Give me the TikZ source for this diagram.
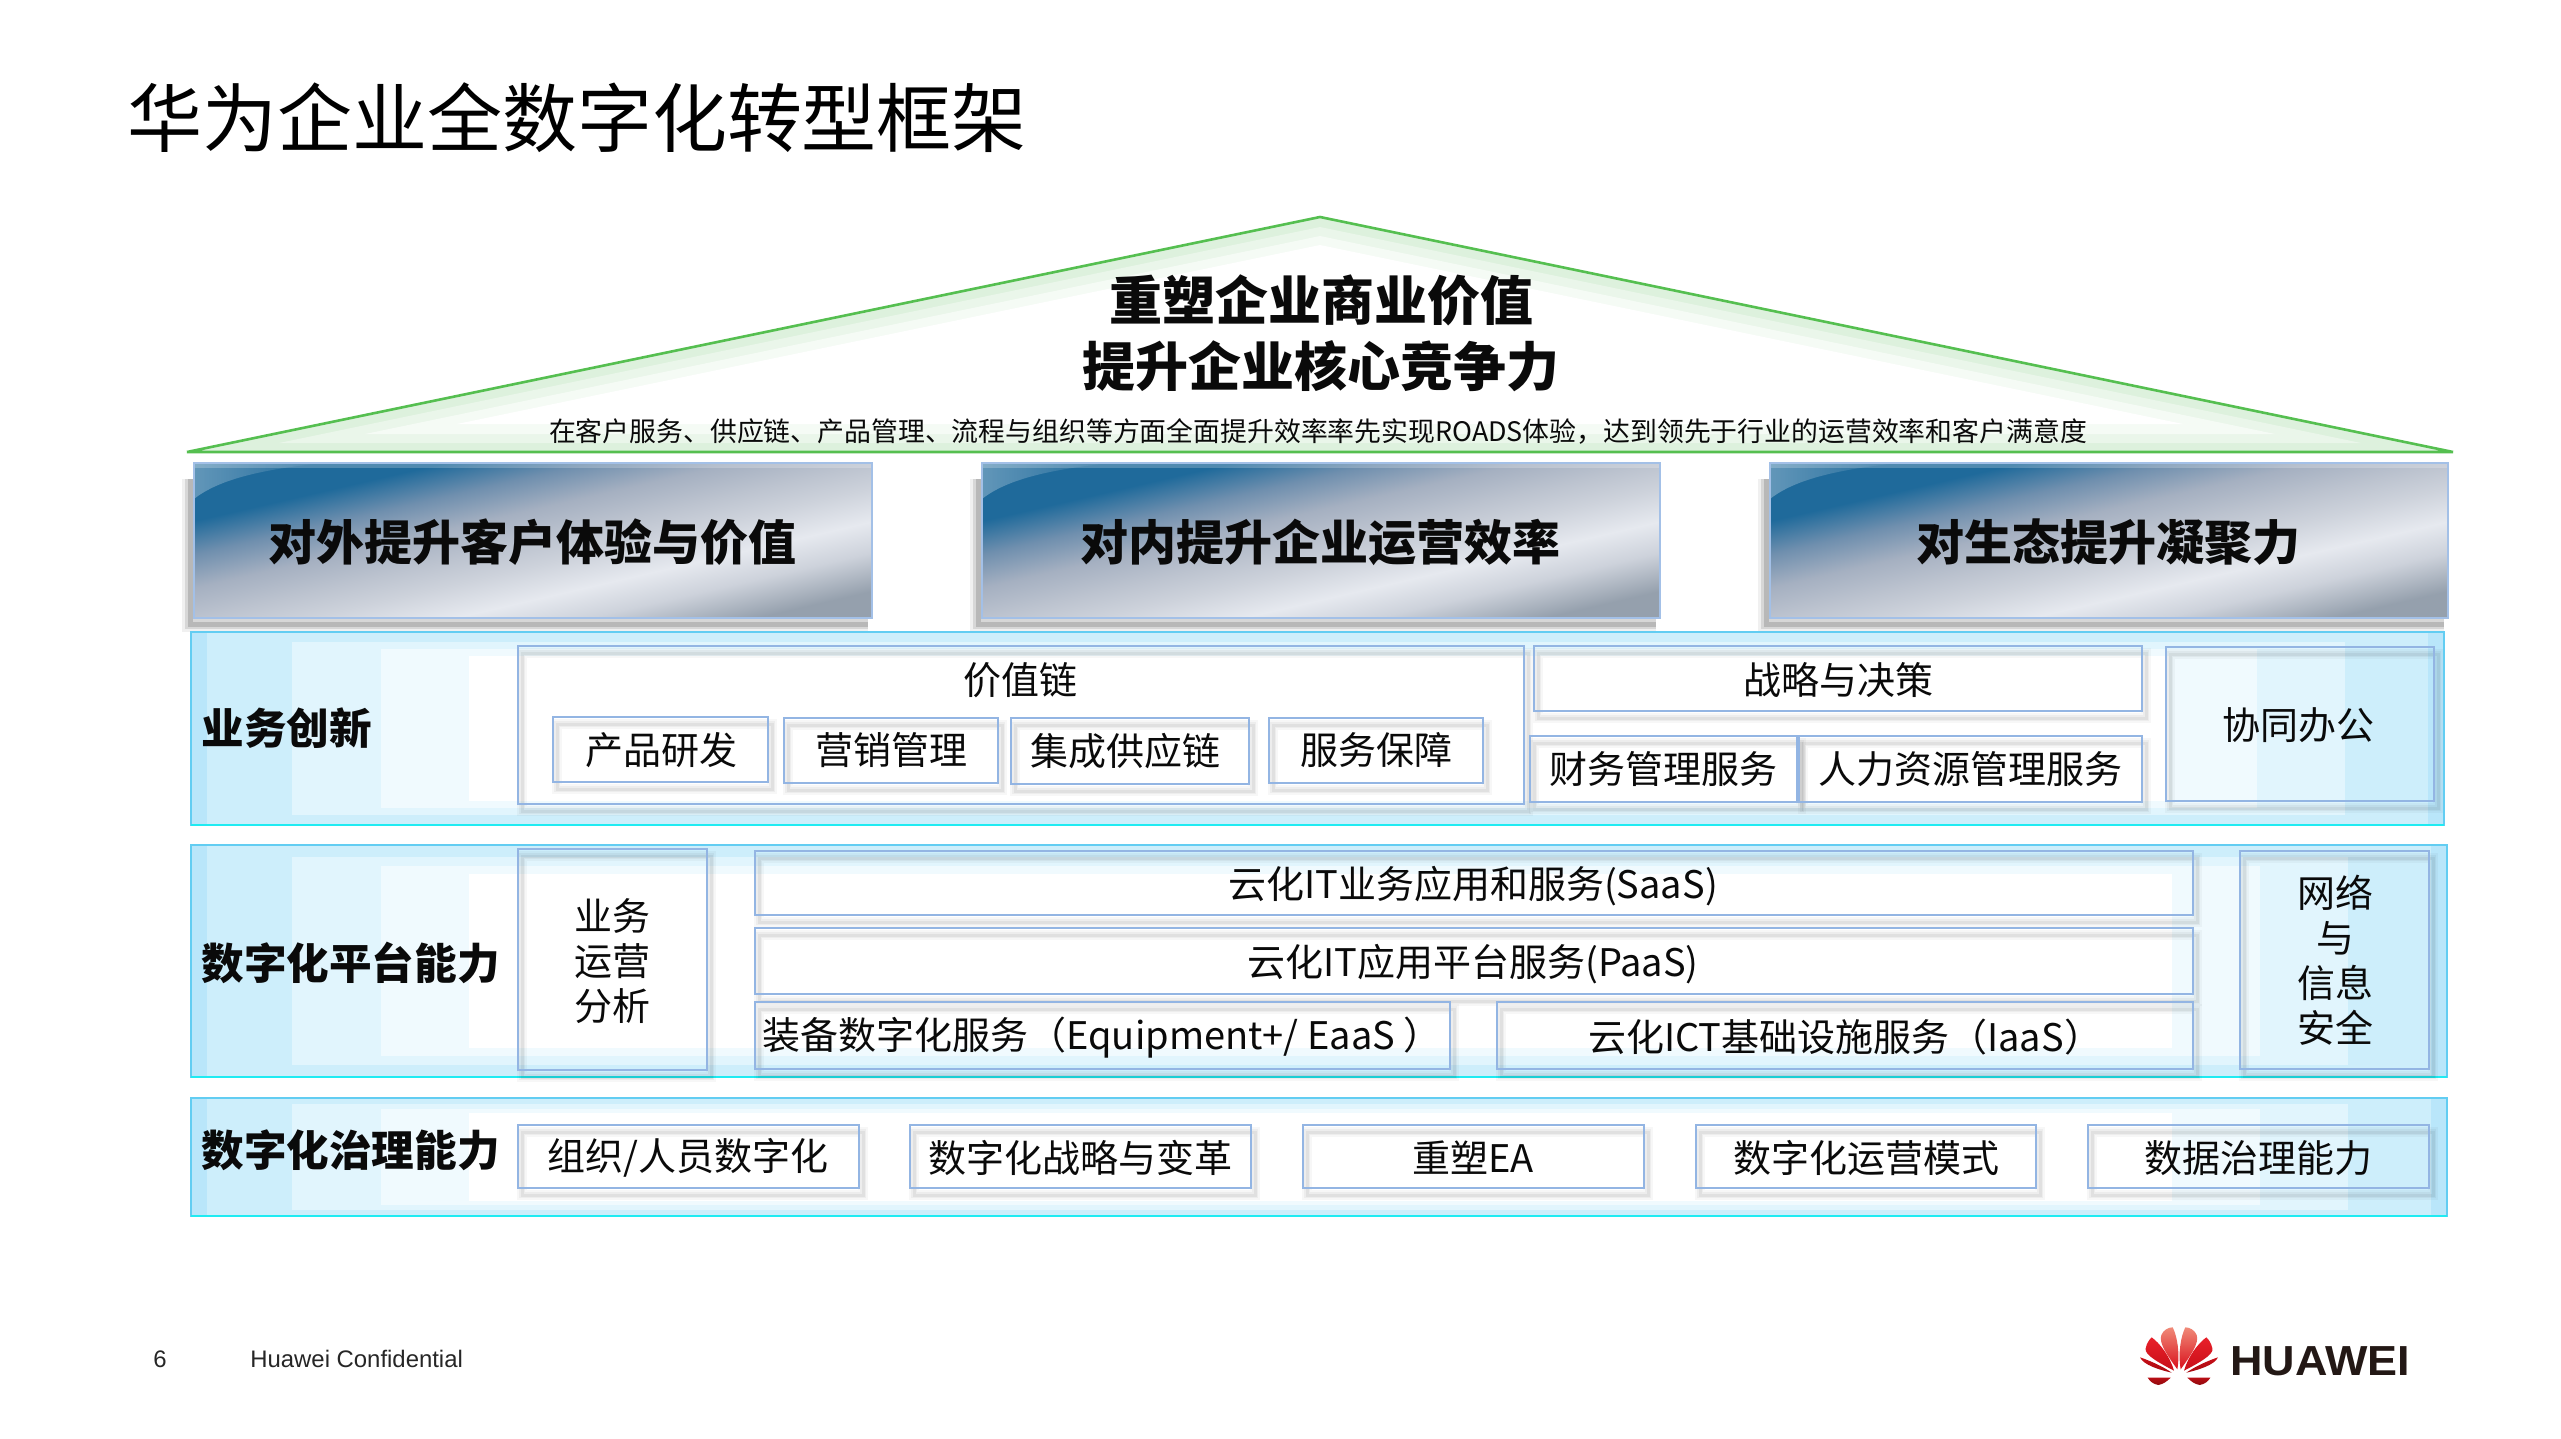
\documentclass[tikz,border=0pt]{standalone}
\usepackage{fontspec}
\setmainfont{Noto Sans CJK SC}
\newfontfamily\arialf{Liberation Sans}
\usetikzlibrary{fadings,calc}
\definecolor{inktext}{HTML}{0A0A0A}
\definecolor{boxline}{HTML}{93B5E3}
\definecolor{rowline}{HTML}{62CDF2}
\definecolor{rowcyan}{HTML}{1FEBF2}
\definecolor{roofgreen}{HTML}{55BF50}
\definecolor{bandA}{HTML}{B9E6FA}
\definecolor{bandB}{HTML}{CDEEFB}
\definecolor{bandC}{HTML}{E1F5FD}
\definecolor{bandD}{HTML}{F0FAFE}
\definecolor{roofA}{HTML}{DDF1DD}
\definecolor{roofB}{HTML}{EAF6EA}
\definecolor{roofC}{HTML}{F5FBF5}
\definecolor{stA}{HTML}{1F6A9B}
\definecolor{stC}{HTML}{6F8FAE}
\definecolor{stD}{HTML}{A5B0C1}
\definecolor{stE}{HTML}{BCC3CF}
\definecolor{stF}{HTML}{CDD2DB}
\definecolor{stG}{HTML}{E6E9EF}
\definecolor{stH}{HTML}{95A0AD}
\definecolor{lgA}{HTML}{F08A78}
\definecolor{lgB}{HTML}{D9101C}
\definecolor{lgC}{HTML}{E8202A}
\definecolor{lgD}{HTML}{C80F18}
\definecolor{lgE}{HTML}{A50A10}
\definecolor{lgF}{HTML}{B80E14}
\definecolor{lgG}{HTML}{8F0A0E}
\definecolor{brandink}{HTML}{231815}
\pgfdeclarehorizontalshading{steelshade}{100bp}{
 color(0bp)=(stA);
 color(31bp)=(stA);
 color(37.5bp)=(stC);
 color(44bp)=(stD);
 color(50bp)=(stE);
 color(55bp)=(stF);
 color(61.5bp)=(stG);
 color(67.5bp)=(stF);
 color(75bp)=(stH);
 color(100bp)=(stH)}
\tikzset{
 txt/.style={text=inktext,inner sep=0pt,align=center},
 bodyfont/.style={font=\fontsize{19}{22.5}\selectfont},
 labelfont/.style={font=\fontsize{21.3}{25}\selectfont\bfseries},
 bigfont/.style={font=\fontsize{26.5}{32}\selectfont\bfseries},
 bandfont/.style={font=\fontsize{24}{30}\selectfont\bfseries},
 subfont/.style={font=\fontsize{13.43}{16}\selectfont},
 hollow/.style={draw=boxline,line width=1.2pt},
 rowframe/.style={draw=rowline,line width=1.4pt},
}
% text: style, x, y, name, text
\newcommand\shtext[5]{\node[txt,#1] (#4) at (#2,#3) {#5};}
% hollow box with soft line shadow
\newcommand\bxshadow[4]{%
 \begin{scope}[shift={(4,7)}]
 \draw[black,opacity=.03,line width=5pt] (#1,#2) rectangle (#3,#4);
 \draw[black,opacity=.04,line width=3pt] (#1,#2) rectangle (#3,#4);
 \draw[black,opacity=.05,line width=1.5pt] (#1,#2) rectangle (#3,#4);
 \end{scope}}
\newcommand\bx[5]{% name x1 y1 x2 y2
 \bxshadow{#2}{#3}{#4}{#5}
 \path[hollow] (#2,#3) rectangle (#4,#5) node[pos=.5,inner sep=0pt] (#1) {};}
% row background with stepped fade
\newcommand\rowbg[5]{% name x1 y1 x2 y2
 \pgfmathsetmacro\hh{#5-#3}
 \fill[bandA] (#2,#3) rectangle (#4,#5);
 \fill[bandB] (#2+16,#3) rectangle (#4-16,#5);
 \fill[bandC] ({#2+101},{#3+.05*\hh}) rectangle ({#4-99},{#5-.05*\hh});
 \fill[bandD] ({#2+190},{#3+.09*\hh}) rectangle ({#4-187},{#5-.09*\hh});
 \fill[white] ({#2+278},{#3+.125*\hh}) rectangle ({#4-275},{#5-.125*\hh});
 \path[rowframe] (#2,#3) rectangle (#4,#5) node[pos=.5,inner sep=0pt] (#1) {};
 \draw[rowcyan,line width=1.4pt] (#2,#5) -- (#4,#5);}
% steel box
\newcommand\steel[5]{% name x1 y1 x2 y2
 \begin{scope}[shift={(-4,6)}]
 \foreach \w/\o in {8/.06,5/.1,2.5/.14}{\draw[black,opacity=\o,line width=\w pt] (#2,#3+10) -- (#2,#5) -- (#4,#5);}
 \end{scope}
 \shade[shading=steelshade,shading angle=-77] (#2,#3) rectangle (#4,#5);
 \fill[white,opacity=.3,path fading=east] (#2,#3) -- (#2+130,#3) .. controls (#2+70,#3+6) and (#2+25,#3+16) .. (#2,#3+36) -- cycle;
 \fill[white,opacity=.22] (#2,#3) rectangle (#4,#3+5);
 \path[hollow,draw=boxline!85!white] (#2,#3) rectangle (#4,#5) node[pos=.5,inner sep=0pt] (#1) {};}
\begin{document}
\begin{tikzpicture}[x=0.5pt,y=-0.5pt]
\useasboundingbox (0,0) rectangle (2561,1439);
\fill[white] (0,0) rectangle (2561,1439);
% title
\node[inner sep=0pt,text=black,font=\fontsize{37.5}{44}\selectfont] (title) at (577,118) {华为企业全数字化转型框架};
% roof
\fill[roofA] (187,452) -- (1320,217) -- (2453,452) -- cycle;
\fill[roofB] (279,443) -- (1320,227) -- (2361,443) -- cycle;
\fill[roofC] (365,434) -- (1320,236) -- (2275,434) -- cycle;
\fill[white] (457,424) -- (1320,245) -- (2183,424) -- cycle;
\draw[roofgreen,line width=1.3pt,line join=bevel] (187,452) -- (1320,217) -- (2453,452) -- cycle;
\shtext{bigfont}{1321}{300}{roofa}{重塑企业商业价值}
\shtext{bigfont}{1321}{366}{roofb}{提升企业核心竞争力}
\node[txt,subfont] (roofc) at (1318,432) {在客户服务、供应链、产品管理、流程与组织等方面全面提升效率率先实现ROADS体验，达到领先于行业的运营效率和客户满意度};
% steel boxes
\steel{sa}{194}{463}{872}{618}
\steel{sb}{982}{463}{1660}{618}
\steel{sc}{1770}{463}{2448}{618}
\shtext{bandfont}{532}{542}{sat}{对外提升客户体验与价值}
\shtext{bandfont}{1320}{542}{sbt}{对内提升企业运营效率}
\shtext{bandfont}{2108}{542}{sct}{对生态提升凝聚力}
% row 1
\rowbg{rowa}{191}{632}{2444}{825}
\shtext{labelfont,anchor=west}{201}{728}{rowat}{业务创新}
\bx{vc}{518}{646}{1524}{804}
\shtext{bodyfont}{1020}{680}{vct}{价值链}
\bx{pa}{553}{717}{768}{782}\shtext{bodyfont}{661}{750}{pat}{产品研发}
\bx{pb}{784}{718}{998}{783}\shtext{bodyfont}{891}{750}{pbt}{营销管理}
\bx{pc}{1011}{718}{1249}{784}\shtext{bodyfont}{1125}{751}{pct}{集成供应链}
\bx{pd}{1269}{718}{1483}{783}\shtext{bodyfont}{1376}{750}{pdt}{服务保障}
\bx{st}{1534}{646}{2142}{711}\shtext{bodyfont}{1838}{680}{stt}{战略与决策}
\bx{fi}{1530}{736}{1797}{802}\shtext{bodyfont}{1663}{769}{fit}{财务管理服务}
\bx{hr}{1799}{736}{2142}{802}\shtext{bodyfont}{1970}{769}{hrt}{人力资源管理服务}
\bx{co}{2166}{647}{2434}{801}\shtext{bodyfont}{2298}{725}{cot}{协同办公}
% row 2
\rowbg{rowb}{191}{845}{2447}{1077}
\shtext{labelfont,anchor=west}{201}{963}{rowbt}{数字化平台能力}
\bx{an}{518}{849}{707}{1070}\shtext{bodyfont}{612}{961}{ant}{业务\\运营\\分析}
\bx{saas}{755}{851}{2193}{915}\shtext{bodyfont}{1473}{886}{saast}{云化IT业务应用和服务(SaaS)}
\bx{paas}{755}{928}{2193}{994}\shtext{bodyfont}{1473}{964}{paast}{云化IT应用平台服务(PaaS)}
\bx{eq}{755}{1002}{1450}{1069}\shtext{bodyfont}{1102}{1038}{eqt}{装备数字化服务（Equipment+/ EaaS ）}
\bx{ia}{1497}{1002}{2193}{1069}\shtext{bodyfont}{1845}{1037}{iat}{云化ICT基础设施服务（IaaS）}
\bx{ne}{2240}{851}{2429}{1069}\shtext{bodyfont}{2335}{960}{net}{网络\\与\\信息\\安全}
% row 3
\rowbg{rowc}{191}{1098}{2447}{1216}
\shtext{labelfont,anchor=west}{201}{1150}{rowct}{数字化治理能力}
\bx{ga}{518}{1125}{859}{1188}\shtext{bodyfont}{688}{1158}{gat}{组织/人员数字化}
\bx{gb}{910}{1125}{1251}{1188}\shtext{bodyfont}{1080}{1158}{gbt}{数字化战略与变革}
\bx{gc}{1303}{1125}{1644}{1188}\shtext{bodyfont}{1473}{1158}{gct}{重塑EA}
\bx{gd}{1696}{1125}{2036}{1188}\shtext{bodyfont}{1866}{1158}{gdt}{数字化运营模式}
\bx{ge}{2088}{1125}{2429}{1188}\shtext{bodyfont}{2258}{1158}{get}{数据治理能力}
% footer
\node[inner sep=0pt,text=black!85,font=\arialf\fontsize{11.95}{15}\selectfont] (pg) at (160,1359) {6};
\node[inner sep=0pt,anchor=west,text=black!85,font=\arialf\fontsize{11.95}{15}\selectfont] (conf) at (250,1359) {Huawei Confidential};
% logo
\newcommand\petals{%
 \shade[top color=lgA,bottom color=lgB] (232,208) .. controls (205,170) and (175,130) .. (184,105) .. controls (190,90) and (205,82) .. (218,82) .. controls (232,110) and (240,160) .. cycle;
 \shade[top color=lgC,bottom color=lgD] (222,212) .. controls (190,195) and (130,165) .. (137,145) .. controls (140,130) and (148,118) .. (155,112) .. controls (180,130) and (210,170) .. cycle;
 \shade[top color=lgD,bottom color=lgE] (215,218) .. controls (180,210) and (130,195) .. (120,172) .. controls (150,182) and (190,200) .. cycle;
 \shade[top color=lgF,bottom color=lgG] (143,233) -- (212,233) .. controls (200,245) and (190,252) .. (175,255) .. controls (160,252) and (150,245) .. cycle;
}
\begin{scope}[shift={(2100,1300)},x=0.16667pt,y=-0.16667pt]\petals\end{scope}
\begin{scope}[shift={(2258,1300)},x=-0.16667pt,y=-0.16667pt]\petals\end{scope}
\node[inner sep=0pt,xscale=1.07,text=brandink,font=\arialf\bfseries\fontsize{21}{24}\selectfont] (brand) at (2320,1361) {HUAWEI};
\end{tikzpicture}
\end{document}
